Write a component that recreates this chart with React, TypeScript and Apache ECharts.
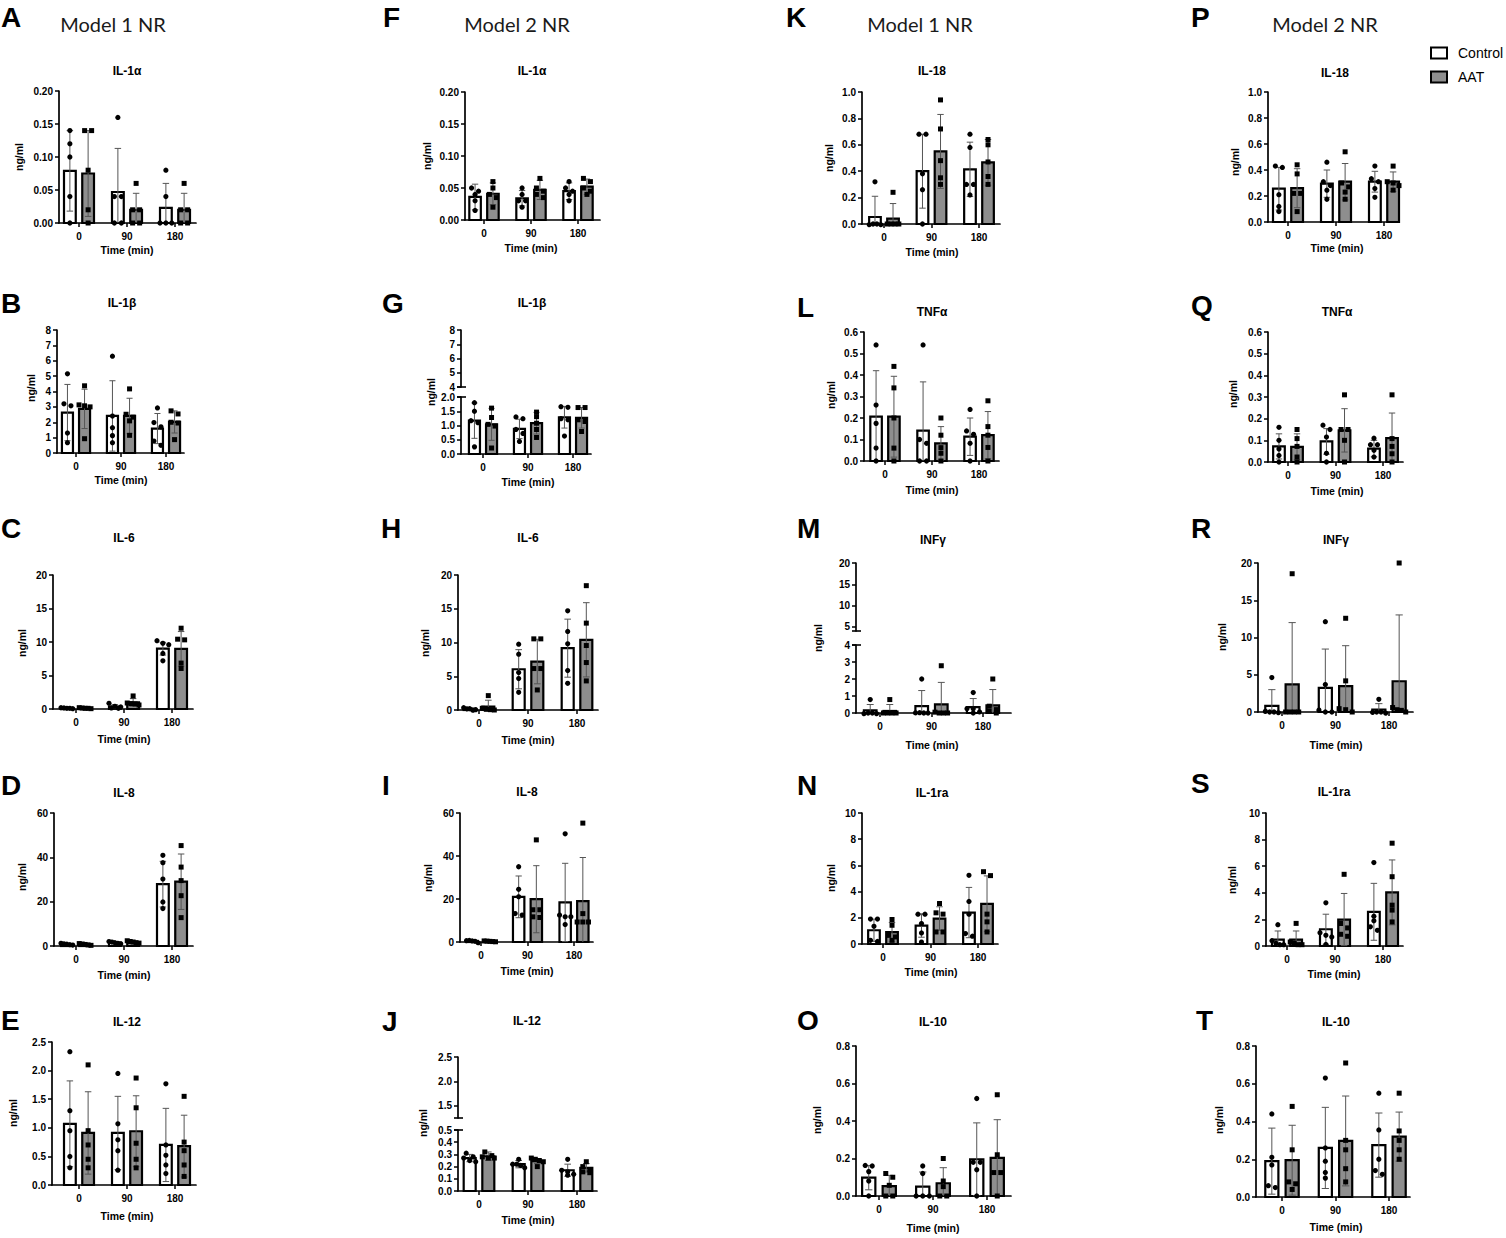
import React, { useEffect, useRef } from "react";
import * as echarts from "echarts";

// ---------- DATA (ng/ml) ----------
const categories = ["0", "90", "180"];

// A  Model 1 NR  IL-1α
const A_ctrl = [0.079, 0.047, 0.023];
const A_ctrlSD = [0.061, 0.066, 0.037];
const A_aat = [0.075, 0.02, 0.02];
const A_aatSD = [0.065, 0.025, 0.025];
const A_ctrlPts = [[0.14, 0.12, 0.1, 0.04, 0], [0.16, 0.04, 0.04, 0, 0], [0.08, 0.04, 0, 0, 0]];
const A_aatPts = [[0.14, 0.14, 0.08, 0.02, 0], [0.06, 0.02, 0.02, 0, 0], [0.06, 0.02, 0.02, 0, 0]];

// B  Model 1 NR  IL-1β
const B_ctrl = [2.63, 2.41, 1.59];
const B_ctrlSD = [1.83, 2.29, 0.98];
const B_aat = [2.87, 2.41, 2.02];
const B_aatSD = [1.28, 1.15, 0.72];
const B_ctrlPts = [[5.15, 3.2, 3.07, 1.3, 0.67], [6.3, 2.4, 1.65, 1.13, 0.67], [2.93, 1.98, 1.7, 0.78, 0.5]];
const B_aatPts = [[4.37, 3.13, 3.07, 3.0, 0.93], [4.17, 2.52, 2.33, 2.09, 1.15], [2.74, 2.54, 2.0, 1.95, 0.87]];

// C  Model 1 NR  IL-6
const C_ctrl = [0.12, 0.35, 9.0];
const C_ctrlSD = [0.05, 0.3, 0.95];
const C_aat = [0.12, 1.0, 8.98];
const C_aatSD = [0.05, 0.55, 2.58];
const C_ctrlPts = [[0.2, 0.15, 0.1, 0.1, 0.05], [0.84, 0.4, 0.3, 0.15, 0.1], [10.2, 9.8, 9.6, 8.3, 7.2]];
const C_aatPts = [[0.2, 0.15, 0.1, 0.1, 0.05], [1.95, 0.9, 0.8, 0.75, 0.6], [12.06, 10.42, 10.32, 6.85, 6.05]];

// D  Model 1 NR  IL-8
const D_ctrl = [0.8, 1.5, 27.9];
const D_ctrlSD = [0.3, 0.4, 10.3];
const D_aat = [0.7, 1.8, 29.0];
const D_aatSD = [0.3, 0.5, 12.5];
const D_ctrlPts = [[1.2, 1.0, 0.8, 0.6, 0.4], [2.0, 1.8, 1.5, 1.2, 1.0], [40.9, 37.6, 30.2, 19.9, 16.9]];
const D_aatPts = [[1.1, 0.9, 0.7, 0.5, 0.3], [2.4, 2.0, 1.8, 1.5, 1.3], [45.3, 35.6, 29.5, 22.7, 12.8]];

// E  Model 1 NR  IL-12
const E_ctrl = [1.07, 0.91, 0.7];
const E_ctrlSD = [0.75, 0.64, 0.64];
const E_aat = [0.91, 0.94, 0.68];
const E_aatSD = [0.72, 0.62, 0.54];
const E_ctrlPts = [[2.33, 1.3, 0.95, 0.5, 0.3], [1.95, 1.07, 0.79, 0.6, 0.26], [1.77, 0.7, 0.52, 0.35, 0.2]];
const E_aatPts = [[2.1, 0.95, 0.7, 0.45, 0.3], [1.87, 1.35, 0.73, 0.45, 0.3], [1.55, 0.75, 0.6, 0.35, 0.15]];

// F  Model 2 NR  IL-1α
const F_ctrl = [0.036, 0.034, 0.045];
const F_ctrlSD = [0.02, 0.012, 0.013];
const F_aat = [0.041, 0.047, 0.052];
const F_aatSD = [0.017, 0.015, 0.012];
const F_ctrlPts = [[0.05, 0.045, 0.04, 0.03, 0.015], [0.05, 0.04, 0.03, 0.03, 0.02], [0.06, 0.05, 0.045, 0.04, 0.03]];
const F_aatPts = [[0.06, 0.05, 0.04, 0.035, 0.02], [0.065, 0.05, 0.045, 0.04, 0.035], [0.065, 0.06, 0.05, 0.045, 0.04]];

// G  Model 2 NR  IL-1β
const G_ctrl = [1.17, 0.88, 1.29];
const G_ctrlSD = [0.62, 0.34, 0.38];
const G_aat = [1.04, 1.08, 1.27];
const G_aatSD = [0.56, 0.38, 0.36];
const G_ctrlPts = [[1.8, 1.5, 1.17, 1.1, 0.25], [1.3, 1.24, 0.86, 0.72, 0.44], [1.66, 1.64, 1.24, 1.2, 0.63]];
const G_aatPts = [[1.61, 1.28, 1.04, 0.98, 0.21], [1.47, 1.31, 1.08, 0.86, 0.58], [1.63, 1.63, 1.2, 1.14, 0.79]];

// H  Model 2 NR  IL-6
const H_ctrl = [0.2, 6.04, 9.16];
const H_ctrlSD = [0.1, 2.9, 4.3];
const H_aat = [0.5, 7.18, 10.4];
const H_aatSD = [0.95, 3.3, 5.5];
const H_ctrlPts = [[0.35, 0.3, 0.2, 0.1, 0.05], [9.75, 8.27, 5.54, 4.65, 2.62], [14.7, 11.63, 9.8, 5.84, 3.96]];
const H_aatPts = [[2.13, 0.25, 0.1, 0.05, 0], [10.54, 10.54, 6.14, 6.14, 2.97], [18.42, 12.87, 9.55, 7.03, 4.31]];

// I  Model 2 NR  IL-8
const I_ctrl = [0.5, 21.0, 18.4];
const I_ctrlSD = [0.3, 9.7, 18.2];
const I_aat = [0.3, 19.9, 19.0];
const I_aatSD = [0.2, 15.6, 20.3];
const I_ctrlPts = [[0.9, 0.7, 0.5, 0.3, 0.2], [35.0, 24.5, 21.0, 13.2, 12.5], [50.3, 12.8, 11.7, 11.7, 8.1]];
const I_aatPts = [[0.5, 0.4, 0.3, 0.2, 0.1], [47.5, 15.0, 15.0, 11.7, 11.4], [55.3, 13.2, 9.3, 9.3, 9.3]];

// J  Model 2 NR  IL-12
const J_ctrl = [0.27, 0.22, 0.17];
const J_ctrlSD = [0.03, 0.03, 0.05];
const J_aat = [0.285, 0.245, 0.19];
const J_aatSD = [0.035, 0.02, 0.035];
const J_ctrlPts = [[0.31, 0.28, 0.27, 0.25, 0.24], [0.26, 0.22, 0.22, 0.21, 0.19], [0.26, 0.17, 0.157, 0.137, 0.13]];
const J_aatPts = [[0.32, 0.29, 0.28, 0.27, 0.27], [0.27, 0.26, 0.25, 0.24, 0.2], [0.24, 0.2, 0.175, 0.157, 0.15]];

// K  Model 1 NR  IL-18
const K_ctrl = [0.053, 0.4, 0.414];
const K_ctrlSD = [0.157, 0.28, 0.206];
const K_aat = [0.04, 0.55, 0.467];
const K_aatSD = [0.115, 0.28, 0.173];
const K_ctrlPts = [[0.32, 0, 0, 0, 0], [0.68, 0.68, 0.38, 0.26, 0], [0.68, 0.58, 0.3, 0.3, 0.22]];
const K_aatPts = [[0.24, 0, 0, 0, 0], [0.94, 0.72, 0.48, 0.35, 0.3], [0.64, 0.6, 0.47, 0.36, 0.3]];

// L  Model 1 NR  TNFα
const L_ctrl = [0.206, 0.141, 0.113];
const L_ctrlSD = [0.214, 0.227, 0.087];
const L_aat = [0.206, 0.082, 0.12];
const L_aatSD = [0.188, 0.078, 0.11];
const L_ctrlPts = [[0.54, 0.26, 0.175, 0.06, 0], [0.54, 0.1, 0.082, 0, 0], [0.24, 0.14, 0.124, 0.082, 0]];
const L_aatPts = [[0.44, 0.34, 0.2, 0.06, 0], [0.2, 0.12, 0.062, 0.036, 0], [0.28, 0.16, 0.12, 0.063, 0]];

// M  Model 1 NR  INFγ
const M_ctrl = [0.15, 0.4, 0.35];
const M_ctrlSD = [0.35, 0.92, 0.5];
const M_aat = [0.12, 0.51, 0.45];
const M_aatSD = [0.38, 1.29, 0.93];
const M_ctrlPts = [[0.79, 0, 0, 0, 0], [2.0, 0.05, 0.02, 0, 0], [1.2, 0.3, 0.25, 0.1, 0]];
const M_aatPts = [[0.79, 0, 0, 0, 0], [2.78, 0.05, 0, 0, 0], [2.0, 0.4, 0.2, 0.1, 0]];

// N  Model 1 NR  IL-1ra
const N_ctrl = [1.05, 1.41, 2.4];
const N_ctrlSD = [0.85, 0.89, 1.92];
const N_aat = [0.9, 1.94, 3.07];
const N_aatSD = [0.74, 0.9, 2.13];
const N_ctrlPts = [[1.9, 1.9, 1.35, 0.28, 0.2], [2.28, 2.28, 1.56, 0.84, 0.15], [5.24, 3.25, 2.28, 0.8, 0.6]];
const N_aatPts = [[1.87, 1.43, 0.66, 0.54, 0.28], [3.09, 2.38, 2.28, 0.92, 0.92], [5.52, 5.22, 2.28, 1.69, 0.92]];

// O  Model 1 NR  IL-10
const O_ctrl = [0.098, 0.05, 0.196];
const O_ctrlSD = [0.065, 0.078, 0.194];
const O_aat = [0.053, 0.068, 0.203];
const O_aatSD = [0.057, 0.083, 0.204];
const O_ctrlPts = [[0.163, 0.16, 0.13, 0.08, 0], [0.16, 0.12, 0, 0, 0], [0.52, 0.18, 0.18, 0.14, 0]];
const O_aatPts = [[0.12, 0.1, 0.057, 0, 0], [0.2, 0.08, 0.05, 0, 0], [0.54, 0.22, 0.125, 0.125, 0]];

// P  Model 2 NR  IL-18
const P_ctrl = [0.256, 0.295, 0.31];
const P_ctrlSD = [0.164, 0.105, 0.08];
const P_aat = [0.26, 0.31, 0.31];
const P_aatSD = [0.15, 0.14, 0.075];
const P_ctrlPts = [[0.43, 0.42, 0.21, 0.12, 0.08], [0.46, 0.31, 0.28, 0.245, 0.175], [0.43, 0.333, 0.31, 0.257, 0.19]];
const P_aatPts = [[0.44, 0.37, 0.22, 0.22, 0.08], [0.54, 0.3, 0.27, 0.23, 0.175], [0.43, 0.31, 0.3, 0.28, 0.245]];

// Q  Model 2 NR  TNFα
const Q_ctrl = [0.072, 0.095, 0.062];
const Q_ctrlSD = [0.058, 0.059, 0.038];
const Q_aat = [0.07, 0.146, 0.11];
const Q_aatSD = [0.06, 0.1, 0.116];
const Q_ctrlPts = [[0.16, 0.1, 0.06, 0.03, 0], [0.17, 0.15, 0.115, 0.04, 0], [0.11, 0.08, 0.08, 0.054, 0.023]];
const Q_aatPts = [[0.15, 0.108, 0.072, 0.023, 0], [0.31, 0.15, 0.15, 0.1, 0], [0.31, 0.108, 0.072, 0.038, 0]];

// R  Model 2 NR  INFγ
const R_ctrl = [0.81, 3.24, 0.31];
const R_ctrlSD = [2.19, 5.21, 0.81];
const R_aat = [3.7, 3.46, 4.13];
const R_aatSD = [8.3, 5.44, 8.9];
const R_ctrlPts = [[4.63, 0.2, 0, 0, 0], [12.13, 3.69, 0.36, 0, 0], [1.7, 0.1, 0, 0, 0]];
const R_aatPts = [[18.56, 0, 0, 0, 0], [12.58, 4.18, 0.45, 0.31, 0], [20.0, 0.6, 0.31, 0.22, 0]];

// S  Model 2 NR  IL-1ra
const S_ctrl = [0.48, 1.26, 2.57];
const S_ctrlSD = [0.65, 1.13, 2.14];
const S_aat = [0.48, 1.99, 4.03];
const S_aatSD = [0.65, 1.96, 2.44];
const S_ctrlPts = [[1.6, 0.4, 0.2, 0.1, 0.1], [3.25, 1.0, 0.8, 0.68, 0.12], [6.27, 2.24, 1.89, 1.44, 1.18]];
const S_aatPts = [[1.7, 0.3, 0.2, 0.1, 0.1], [5.39, 1.69, 1.36, 0.88, 0.73], [7.73, 5.21, 3.07, 2.7, 1.81]];

// T  Model 2 NR  IL-10
const T_ctrl = [0.19, 0.26, 0.275];
const T_ctrlSD = [0.175, 0.215, 0.17];
const T_aat = [0.195, 0.297, 0.32];
const T_aatSD = [0.185, 0.238, 0.13];
const T_ctrlPts = [[0.44, 0.21, 0.17, 0.06, 0.05], [0.63, 0.26, 0.19, 0.13, 0.1], [0.55, 0.355, 0.2, 0.14, 0.12]];
const T_aatPts = [[0.48, 0.25, 0.08, 0.07, 0.04], [0.71, 0.3, 0.25, 0.15, 0.08], [0.55, 0.35, 0.3, 0.25, 0.2]];

const columnTitles = ["Model 1 NR", "Model 2 NR", "Model 1 NR", "Model 2 NR"];
const legendNames = ["Control", "AAT"];

// ---------- LAYOUT ----------
type Seg = { top: number; bottom: number; min: number; max: number; interval?: number; ticks?: number[]; dec: number };
type Panel = {
  letter: string; title: string;
  ctrl: number[]; ctrlSD: number[]; aat: number[]; aatSD: number[]; ctrlPts: number[][]; aatPts: number[][];
  left: number; right: number; centers: number[]; segs: Seg[];
  letterPos: number[]; titlePos: number[]; xlab: number[]; ylab: number[];
};

const seg = (top: number, bottom: number, min: number, max: number, interval: number, dec: number): Seg => ({ top, bottom, min, max, interval, dec });

const panels: Panel[] = [
  { letter: "A", title: "IL-1α", ctrl: A_ctrl, ctrlSD: A_ctrlSD, aat: A_aat, aatSD: A_aatSD, ctrlPts: A_ctrlPts, aatPts: A_aatPts,
    left: 59, right: 196, centers: [79, 127, 175], segs: [seg(91, 223, 0, 0.2, 0.05, 2)], letterPos: [1, 17], titlePos: [127, 71], xlab: [127, 250], ylab: [19, 157] },
  { letter: "B", title: "IL-1β", ctrl: B_ctrl, ctrlSD: B_ctrlSD, aat: B_aat, aatSD: B_aatSD, ctrlPts: B_ctrlPts, aatPts: B_aatPts,
    left: 57, right: 184, centers: [76, 121, 166], segs: [seg(330, 453, 0, 8, 1, 0)], letterPos: [1, 303], titlePos: [122, 303], xlab: [121, 480], ylab: [31, 388] },
  { letter: "C", title: "IL-6", ctrl: C_ctrl, ctrlSD: C_ctrlSD, aat: C_aat, aatSD: C_aatSD, ctrlPts: C_ctrlPts, aatPts: C_aatPts,
    left: 53, right: 193, centers: [76, 124, 172], segs: [seg(575, 709, 0, 20, 5, 0)], letterPos: [1, 528], titlePos: [124, 538], xlab: [124, 739], ylab: [22, 643] },
  { letter: "D", title: "IL-8", ctrl: D_ctrl, ctrlSD: D_ctrlSD, aat: D_aat, aatSD: D_aatSD, ctrlPts: D_ctrlPts, aatPts: D_aatPts,
    left: 54, right: 193, centers: [76, 124, 172], segs: [seg(813, 946, 0, 60, 20, 0)], letterPos: [1, 785], titlePos: [124, 793], xlab: [124, 975], ylab: [22, 877] },
  { letter: "E", title: "IL-12", ctrl: E_ctrl, ctrlSD: E_ctrlSD, aat: E_aat, aatSD: E_aatSD, ctrlPts: E_ctrlPts, aatPts: E_aatPts,
    left: 52, right: 196, centers: [79, 127, 175], segs: [seg(1042, 1185, 0, 2.5, 0.5, 1)], letterPos: [1, 1020], titlePos: [127, 1022], xlab: [127, 1216], ylab: [13, 1113] },

  { letter: "F", title: "IL-1α", ctrl: F_ctrl, ctrlSD: F_ctrlSD, aat: F_aat, aatSD: F_aatSD, ctrlPts: F_ctrlPts, aatPts: F_aatPts,
    left: 465, right: 600, centers: [484, 531, 578], segs: [seg(92, 220, 0, 0.2, 0.05, 2)], letterPos: [383, 17], titlePos: [532, 71], xlab: [531, 248], ylab: [427, 156] },
  { letter: "G", title: "IL-1β", ctrl: G_ctrl, ctrlSD: G_ctrlSD, aat: G_aat, aatSD: G_aatSD, ctrlPts: G_ctrlPts, aatPts: G_aatPts,
    left: 461, right: 591, centers: [483, 528, 573], segs: [seg(330, 387, 4, 8, 1, 0), seg(397, 454, 0, 2, 0.5, 1)], letterPos: [382, 303], titlePos: [532, 303], xlab: [528, 482], ylab: [431, 392] },
  { letter: "H", title: "IL-6", ctrl: H_ctrl, ctrlSD: H_ctrlSD, aat: H_aat, aatSD: H_aatSD, ctrlPts: H_ctrlPts, aatPts: H_aatPts,
    left: 458, right: 598, centers: [479, 528, 577], segs: [seg(575, 710, 0, 20, 5, 0)], letterPos: [381, 528], titlePos: [528, 538], xlab: [528, 740], ylab: [425, 643] },
  { letter: "I", title: "IL-8", ctrl: I_ctrl, ctrlSD: I_ctrlSD, aat: I_aat, aatSD: I_aatSD, ctrlPts: I_ctrlPts, aatPts: I_aatPts,
    left: 460, right: 593, centers: [481, 527, 574], segs: [seg(813, 942, 0, 60, 20, 0)], letterPos: [382, 785], titlePos: [527, 792], xlab: [527, 971], ylab: [428, 878] },
  { letter: "J", title: "IL-12", ctrl: J_ctrl, ctrlSD: J_ctrlSD, aat: J_aat, aatSD: J_aatSD, ctrlPts: J_ctrlPts, aatPts: J_aatPts,
    left: 458, right: 597, centers: [479, 528, 577],
    segs: [{ top: 1057, bottom: 1118, min: 1.25, max: 2.5, ticks: [1.5, 2.0, 2.5], dec: 1 }, seg(1130, 1191, 0, 0.5, 0.1, 1)],
    letterPos: [382, 1021], titlePos: [527, 1021], xlab: [528, 1220], ylab: [423, 1123] },

  { letter: "K", title: "IL-18", ctrl: K_ctrl, ctrlSD: K_ctrlSD, aat: K_aat, aatSD: K_aatSD, ctrlPts: K_ctrlPts, aatPts: K_aatPts,
    left: 862, right: 1000, centers: [884, 932, 979], segs: [seg(92, 224, 0, 1, 0.2, 1)], letterPos: [786, 17], titlePos: [932, 71], xlab: [932, 252], ylab: [829, 158] },
  { letter: "L", title: "TNFα", ctrl: L_ctrl, ctrlSD: L_ctrlSD, aat: L_aat, aatSD: L_aatSD, ctrlPts: L_ctrlPts, aatPts: L_aatPts,
    left: 864, right: 999, centers: [885, 932, 979], segs: [seg(332, 461, 0, 0.6, 0.1, 1)], letterPos: [797, 307], titlePos: [932, 312], xlab: [932, 490], ylab: [831, 395] },
  { letter: "M", title: "INFγ", ctrl: M_ctrl, ctrlSD: M_ctrlSD, aat: M_aat, aatSD: M_aatSD, ctrlPts: M_ctrlPts, aatPts: M_aatPts,
    left: 856, right: 1011, centers: [880, 932, 983],
    segs: [{ top: 563, bottom: 631, min: 4, max: 20, ticks: [5, 10, 15, 20], dec: 0 }, seg(645, 713, 0, 4, 1, 0)],
    letterPos: [797, 528], titlePos: [933, 540], xlab: [932, 745], ylab: [818, 638] },
  { letter: "N", title: "IL-1ra", ctrl: N_ctrl, ctrlSD: N_ctrlSD, aat: N_aat, aatSD: N_aatSD, ctrlPts: N_ctrlPts, aatPts: N_aatPts,
    left: 862, right: 998, centers: [883, 931, 978], segs: [seg(813, 944, 0, 10, 2, 0)], letterPos: [797, 785], titlePos: [932, 793], xlab: [931, 972], ylab: [831, 878] },
  { letter: "O", title: "IL-10", ctrl: O_ctrl, ctrlSD: O_ctrlSD, aat: O_aat, aatSD: O_aatSD, ctrlPts: O_ctrlPts, aatPts: O_aatPts,
    left: 856, right: 1011, centers: [879, 933, 987], segs: [seg(1046, 1196, 0, 0.8, 0.2, 1)], letterPos: [797, 1020], titlePos: [933, 1022], xlab: [933, 1228], ylab: [817, 1120] },

  { letter: "P", title: "IL-18", ctrl: P_ctrl, ctrlSD: P_ctrlSD, aat: P_aat, aatSD: P_aatSD, ctrlPts: P_ctrlPts, aatPts: P_aatPts,
    left: 1268, right: 1398, centers: [1288, 1337, 1384], segs: [seg(92, 222, 0, 1, 0.2, 1)], letterPos: [1191, 17], titlePos: [1335, 73], xlab: [1337, 248], ylab: [1235, 162] },
  { letter: "Q", title: "TNFα", ctrl: Q_ctrl, ctrlSD: Q_ctrlSD, aat: Q_aat, aatSD: Q_aatSD, ctrlPts: Q_ctrlPts, aatPts: Q_aatPts,
    left: 1268, right: 1403, centers: [1288, 1336, 1383], segs: [seg(332, 462, 0, 0.6, 0.1, 1)], letterPos: [1191, 305], titlePos: [1337, 312], xlab: [1337, 491], ylab: [1233, 394] },
  { letter: "R", title: "INFγ", ctrl: R_ctrl, ctrlSD: R_ctrlSD, aat: R_aat, aatSD: R_aatSD, ctrlPts: R_ctrlPts, aatPts: R_aatPts,
    left: 1258, right: 1413, centers: [1282, 1336, 1389], segs: [seg(563, 712, 0, 20, 5, 0)], letterPos: [1191, 528], titlePos: [1336, 540], xlab: [1336, 745], ylab: [1222, 637] },
  { letter: "S", title: "IL-1ra", ctrl: S_ctrl, ctrlSD: S_ctrlSD, aat: S_aat, aatSD: S_aatSD, ctrlPts: S_ctrlPts, aatPts: S_aatPts,
    left: 1266, right: 1403, centers: [1287, 1334, 1383], segs: [seg(813, 946, 0, 10, 2, 0)], letterPos: [1191, 783], titlePos: [1334, 792], xlab: [1334, 974], ylab: [1232, 880] },
  { letter: "T", title: "IL-10", ctrl: T_ctrl, ctrlSD: T_ctrlSD, aat: T_aat, aatSD: T_aatSD, ctrlPts: T_ctrlPts, aatPts: T_aatPts,
    left: 1256, right: 1410, centers: [1282, 1336, 1389], segs: [seg(1046, 1197, 0, 0.8, 0.2, 1)], letterPos: [1196, 1020], titlePos: [1336, 1022], xlab: [1336, 1227], ylab: [1219, 1120] },
];

const columnTitlePos = [[113, 24], [517, 24], [920, 24], [1325, 24]];

const FONT = "Liberation Sans, Arial, Helvetica, sans-serif";
const AAT_FILL = "#8e8e8e";
const ERR = "#555555";

function makeRender(side: number, fill: string, square: boolean, yMin: number) {
  return (params: any, api: any) => {
    const i = api.value(0);
    const m = api.value(1);
    const sd = api.value(2);
    const pts: number[] = [];
    for (let k = 3; k < 8; k++) pts.push(api.value(k));
    const sp = api.size([1, 0])[0];
    const base = api.coord([i, yMin]);
    const cx = base[0] + side * 0.19 * sp;
    const bw = 0.245 * sp;
    const top = api.coord([i, m])[1];
    const children: any[] = [];
    children.push({
      type: "rect",
      shape: { x: cx - bw / 2, y: top, width: bw, height: base[1] - top },
      style: { fill, stroke: "#000", lineWidth: 2.2 },
    });
    const up = api.coord([i, m + sd])[1];
    const loV = Math.max(m - sd, yMin);
    const lo = api.coord([i, loV])[1];
    const cap = bw * 0.55;
    children.push({ type: "line", shape: { x1: cx, y1: up, x2: cx, y2: lo }, style: { stroke: ERR, lineWidth: 1 } });
    children.push({ type: "line", shape: { x1: cx - cap / 2, y1: up, x2: cx + cap / 2, y2: up }, style: { stroke: ERR, lineWidth: 1 } });
    if (m - sd > yMin) {
      children.push({ type: "line", shape: { x1: cx - cap / 2, y1: lo, x2: cx + cap / 2, y2: lo }, style: { stroke: ERR, lineWidth: 1 } });
    }
    // beeswarm-like layout of the individual points
    const ys = pts.map((v) => api.coord([i, v])[1]);
    const order = ys.map((_, k) => k).sort((a, b) => ys[a] - ys[b]);
    const clusters: number[][] = [];
    order.forEach((k) => {
      const last = clusters[clusters.length - 1];
      if (last && Math.abs(ys[k] - ys[last[0]]) < 4.5) last.push(k);
      else clusters.push([k]);
    });
    clusters.forEach((cl) => {
      const n = cl.length;
      const step = n > 1 ? Math.min(7, bw / (n - 1)) : 0;
      cl.forEach((k, j) => {
        const px = cx + (j - (n - 1) / 2) * step;
        const py = ys[k];
        if (square) {
          children.push({ type: "rect", shape: { x: px - 2.5, y: py - 2.5, width: 5, height: 5 }, style: { fill: "#000" } });
        } else {
          children.push({ type: "circle", shape: { cx: px, cy: py, r: 2.6 }, style: { fill: "#000" } });
        }
      });
    });
    return { type: "group", children };
  };
}

function buildOption() {
  const option: any = { animation: false, grid: [], xAxis: [], yAxis: [], series: [], graphic: [] };
  const axisLine = { show: true, onZero: false, lineStyle: { color: "#000", width: 1.7 } };
  const tickStyle = { color: "#000", width: 1.5 };
  const labelStyle = { fontSize: 10, fontWeight: "bold", color: "#000", fontFamily: FONT };

  panels.forEach((p) => {
    const sp = (p.centers[2] - p.centers[0]) / 2;
    const xmin = (p.left - p.centers[0]) / sp;
    const xmax = (p.right - p.centers[0]) / sp;
    p.segs.forEach((s, si) => {
      const gi = option.grid.length;
      const isLower = si === p.segs.length - 1;
      option.grid.push({ left: p.left, top: s.top, width: p.right - p.left, height: s.bottom - s.top });
      option.xAxis.push({
        type: "value", gridIndex: gi, min: xmin, max: xmax, show: isLower,
        axisLine,
        axisTick: { show: true, length: 4, customValues: [0, 1, 2], lineStyle: tickStyle },
        axisLabel: { ...labelStyle, margin: 8, customValues: [0, 1, 2], formatter: (v: number) => categories[Math.round(v)] ?? "" },
        splitLine: { show: false },
      });
      const yAx: any = {
        type: "value", gridIndex: gi, min: s.min, max: s.max,
        axisLine,
        axisTick: { show: true, length: 4, lineStyle: tickStyle },
        axisLabel: { ...labelStyle, margin: 6, formatter: (v: number) => v.toFixed(s.dec) },
        splitLine: { show: false },
      };
      if (s.ticks) {
        yAx.axisTick.customValues = s.ticks;
        yAx.axisLabel.customValues = s.ticks;
      } else {
        yAx.interval = s.interval;
      }
      option.yAxis.push(yAx);
      if (isLower) {
        const mk = (means: number[], sds: number[], pts: number[][]) =>
          means.map((m, i) => [i, m, sds[i], ...pts[i]]);
        option.series.push({
          type: "custom", name: legendNames[0], coordinateSystem: "cartesian2d", xAxisIndex: gi, yAxisIndex: gi,
          renderItem: makeRender(-1, "#fff", false, s.min), data: mk(p.ctrl, p.ctrlSD, p.ctrlPts),
          encode: { x: 0, y: 1 }, clip: false, silent: true,
        });
        option.series.push({
          type: "custom", name: legendNames[1], coordinateSystem: "cartesian2d", xAxisIndex: gi, yAxisIndex: gi,
          renderItem: makeRender(1, AAT_FILL, true, s.min), data: mk(p.aat, p.aatSD, p.aatPts),
          encode: { x: 0, y: 1 }, clip: false, silent: true,
        });
      }
    });
    // break caps for broken axes
    if (p.segs.length > 1) {
      const up = p.segs[0], lo = p.segs[1];
      [up.bottom, lo.top].forEach((y) => {
        option.graphic.push({ type: "line", shape: { x1: p.left - 4, y1: y, x2: p.left + 5, y2: y }, style: { stroke: "#000", lineWidth: 1.6 } });
      });
    }
    // texts
    option.graphic.push({ type: "text", x: p.letterPos[0], y: p.letterPos[1],
      style: { text: p.letter, fontSize: 28, fontWeight: "bold", fontFamily: FONT, fill: "#000", align: "left", verticalAlign: "middle" } });
    option.graphic.push({ type: "text", x: p.titlePos[0], y: p.titlePos[1],
      style: { text: p.title, fontSize: 12, fontWeight: "bold", fontFamily: FONT, fill: "#000", align: "center", verticalAlign: "middle" } });
    option.graphic.push({ type: "text", x: p.xlab[0], y: p.xlab[1],
      style: { text: "Time (min)", fontSize: 10.5, fontWeight: "bold", fontFamily: FONT, fill: "#000", align: "center", verticalAlign: "middle" } });
    option.graphic.push({ type: "text", x: p.ylab[0], y: p.ylab[1], rotation: Math.PI / 2,
      style: { text: "ng/ml", fontSize: 10.5, fontWeight: "bold", fontFamily: FONT, fill: "#000", align: "center", verticalAlign: "middle" } });
  });

  columnTitles.forEach((t, i) => {
    option.graphic.push({ type: "text", x: columnTitlePos[i][0], y: columnTitlePos[i][1],
      style: { text: t, fontSize: 20, fontFamily: "Lato, Open Sans, sans-serif", fill: "#1a1a1a", align: "center", verticalAlign: "middle" } });
  });

  // legend
  const legendFills = ["#fff", AAT_FILL];
  const legendY = [53, 77];
  legendNames.forEach((n, i) => {
    option.graphic.push({ type: "rect", shape: { x: 1431, y: legendY[i] - 5.5, width: 16, height: 11 },
      style: { fill: legendFills[i], stroke: "#000", lineWidth: 2 } });
    option.graphic.push({ type: "text", x: 1458, y: legendY[i],
      style: { text: n, fontSize: 14, fontFamily: FONT, fill: "#000", align: "left", verticalAlign: "middle" } });
  });

  return option;
}

export default function App() {
  const ref = useRef<HTMLDivElement>(null);
  useEffect(() => {
    document.body.style.margin = "0";
    if (!ref.current) return;
    const chart = echarts.init(ref.current, undefined, { renderer: "svg" });
    chart.setOption(buildOption());
    return () => chart.dispose();
  }, []);
  return <div ref={ref} style={{ width: 1506, height: 1238, background: "#fff" }} />;
}
